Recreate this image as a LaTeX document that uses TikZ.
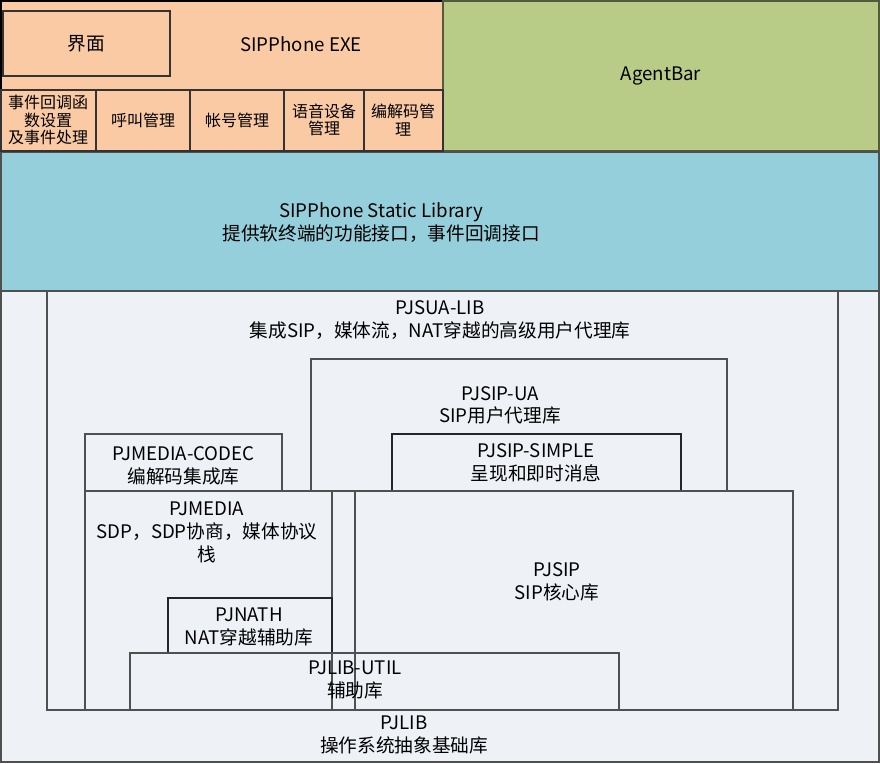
\documentclass[tikz,border=0pt]{standalone}
\usepackage{fontspec}
\setmainfont{Noto Sans CJK SC}
\definecolor{peach}{HTML}{FACAA5}
\definecolor{agent}{HTML}{B8CB87}
\definecolor{libblue}{HTML}{95CFDB}
\definecolor{pale}{HTML}{EEF2F7}
\definecolor{edge}{HTML}{505050}
\begin{document}
\begin{tikzpicture}[x=0.75pt,y=-0.75pt,
  layer/.style={draw=edge,line width=0.8pt},
  lbl/.style={align=center,inner sep=0pt,font=\fontsize{14}{17}\selectfont},
  small/.style={align=center,inner sep=0pt,font=\fontsize{12}{13.2}\selectfont}]
\useasboundingbox (0,0) rectangle (880,763);
% top
\path[layer,fill=peach,draw=black] (1,1) rectangle (443,151);
\path[layer,fill=agent,draw=agent!45!black] (443,1) rectangle (879,151);
\path[layer,fill=libblue] (1,152) rectangle (879,291);
\path[layer,fill=pale] (1,291) rectangle (879,762);
% EXE internals
\path[layer,draw=black!80] (3,11) rectangle (170,76);
\path[layer,draw=black!80] (1,90) rectangle (96,151) (96,90) rectangle (190,151)
  (190,90) rectangle (284,151) (284,90) rectangle (364,151) (364,90) rectangle (443,151);
\node[lbl] (ui) at (86,44) {界面};
\node[lbl] (exe) at (301,44) {SIPPhone EXE};
\node[small] (cb) at (48,120) {事件回调函\\数设置\\及事件处理};
\node[small] (call) at (143,120) {呼叫管理};
\node[small] (acct) at (237,120) {帐号管理};
\node[small] (audio) at (324,120) {语音设备\\管理};
\node[small] (codecm) at (403,120) {编解码管\\理};
\node[lbl] (agentbar) at (661,76) {AgentBar};
\node[lbl] (static) at (381,222.5) {SIPPhone Static Library\\提供软终端的功能接口，事件回调接口};
% lower boxes
\path[layer] (47,291) rectangle (838,710);
\path[layer] (311,359) rectangle (727,491);
\path[layer] (85,434) rectangle (282,491);
\path[layer,draw=black!85] (392,434) rectangle (681,491);
\path[layer] (85,491) rectangle (332,710);
\path[layer] (355,491) rectangle (793,710);
\path[layer,draw=black!85] (168,598) rectangle (332,653);
\path[layer] (130,653) rectangle (619,710);
\node[lbl] (pjsua) at (440,320) {PJSUA-LIB\\集成SIP，媒体流，NAT穿越的高级用户代理库};
\node[lbl] (pjsipua) at (500,405.5) {PJSIP-UA\\SIP用户代理库};
\node[lbl] (simple) at (536,462.5) {PJSIP-SIMPLE\\呈现和即时消息};
\node[lbl] (codec) at (183.5,466) {PJMEDIA-CODEC\\编解码集成库};
\node[lbl,anchor=north] (pjmedia) at (207,502) {PJMEDIA\\SDP，SDP协商，媒体协议\\栈};
\node[lbl] (pjsip) at (557,582) {PJSIP\\SIP核心库};
\node[lbl] (pjnath) at (249,627) {PJNATH\\NAT穿越辅助库};
\node[lbl] (util) at (355,680) {PJLIB-UTIL\\辅助库};
\node[lbl] (pjlib) at (404,735) {PJLIB\\操作系统抽象基础库};
\end{tikzpicture}
\end{document}
